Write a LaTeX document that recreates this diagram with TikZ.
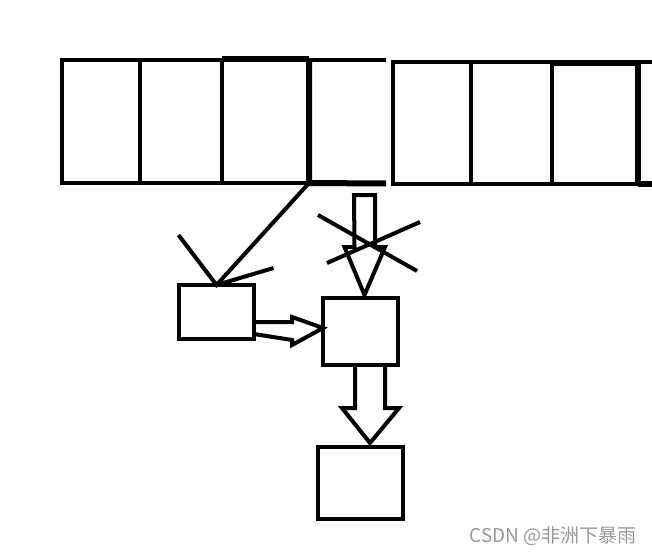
\documentclass[tikz,border=0pt]{standalone}
\usepackage{fontspec}
\newfontfamily\cjkfont{Noto Sans CJK SC}
\usetikzlibrary{calc}

\begin{document}
\begin{tikzpicture}[x=1pt,y=-1pt,
    wall/.style={line width=4pt},
    thickwall/.style={line width=6pt},
    cell/.style={draw,line width=4pt,inner sep=0pt,outer sep=0pt,anchor=north west},
    box/.style={draw,line width=4pt,inner sep=0pt,outer sep=0pt},
    hollow/.style={line width=4pt,line join=miter}]
  \useasboundingbox (0,0) rectangle (652,554);

  % Top row, left part
  \foreach \xa/\xb [count=\i] in {62/140,140/222,222/309}
    \node[cell,minimum width={(\xb-\xa)*1pt},minimum height=123pt] (L\i) at (\xa,60) {};
  \draw[thickwall] ($(L3.north west)+(0,-1)$) -- ($(L3.north east)+(0,-1)$);
  \draw[wall] (386,60) -- (L3.north east);
  \draw[thickwall] (L3.north east) -- (L3.south east) -- (386,183.5);

  % Top row, right part
  \foreach \xa/\xb [count=\i] in {393/471,471/552,552/638}
    \node[cell,minimum width={(\xb-\xa)*1pt},minimum height=122pt] (R\i) at (\xa,62) {};
  \draw[thickwall] ($(R3.north west)+(0,1)$) -- ($(R3.north east)+(0,1)$);
  \draw[thickwall] (R3.north east) -- (R3.south east);
  \draw[wall] (R3.north east) -- (652,62);
  \draw[thickwall] (R3.south east) -- (652,184);

  % Boxes
  \node[box,minimum width=75pt,minimum height=54pt] (A) at (216.5,312) {};
  \node[box,minimum width=75pt,minimum height=67pt] (B) at (360.5,331.5) {};
  \node[box,minimum width=85pt,minimum height=72pt] (C) at (360.5,483) {};

  % Pointer to A
  \draw[wall] (L3.south east) -- (A.north) -- ++(-38,-50);
  \draw[wall] (A.north) -- ++(57,-17);

  % Hollow arrow A to B
  \coordinate (ab) at ($(A.east)+(0,16)$);
  \draw[hollow] ($(ab)+(0,-6)$) -- ++(38,0) -- ++(0,-5) -- (B.west |- ab)
    -- ($(ab)+(38,17)$) -- ++(0,-5) -- ($(ab)+(0,6)$);

  % Crossed out arrow into B
  \coordinate (top) at (364.5,195);
  \draw[hollow] ($(top)+(-10.5,0)$) -- ++(21,0) -- ++(0,52) -- ++(10,0)
    -- ($(top |- B.north)+(0,-3)$) -- ($(top)+(-20,52)$) -- ++(10,0) -- cycle;
  \draw[wall] (318,215) -- (417,271);
  \draw[wall] (327,263) -- (420,222);

  % Hollow arrow B to C
  \coordinate (bc) at ($(B.south)+(9.5,0)$);
  \draw[hollow] ($(bc)+(-15,0)$) -- ++(0,43) -- ++(-13,0) -- ($(bc |- C.north)+(0,-4)$)
    -- ($(bc)+(29,43)$) -- ++(-14,0) -- ++(0,-43);

  % Watermark
  \node[text=black!40,font=\cjkfont\fontsize{19}{19}\selectfont,anchor=east,inner sep=0pt]
    (mark) at (637,536) {CSDN @非洲下暴雨};
\end{tikzpicture}
\end{document}
